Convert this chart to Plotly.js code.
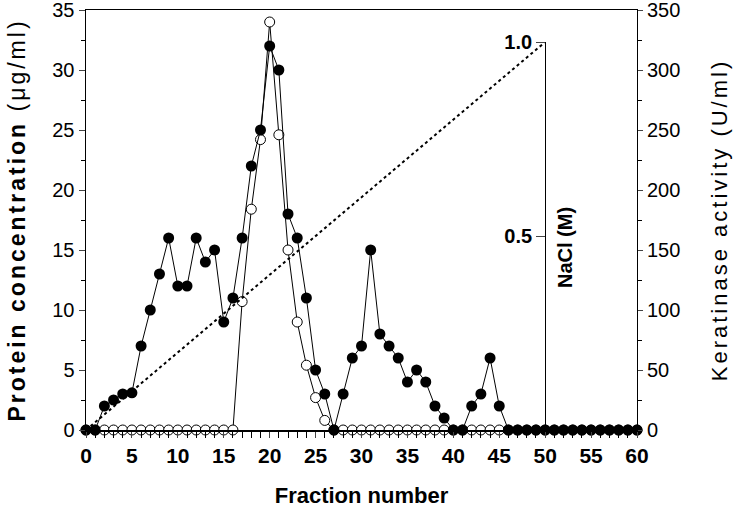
<!DOCTYPE html>
<html>
<head>
<meta charset="utf-8">
<script src="https://cdn.plot.ly/plotly-3.0.1.min.js"></script>
<style>
  html, body { margin: 0; padding: 0; background: #ffffff; }
  #chart { width: 739px; height: 517px; }
</style>
</head>
<body>
<div id="chart"></div>
<script>
const FRACTIONS = [
  0, 1, 2, 3, 4, 5, 6, 7, 8, 9, 10, 11, 12, 13, 14, 15, 16, 17, 18, 19, 20,
  21, 22, 23, 24, 25, 26, 27, 28, 29, 30, 31, 32, 33, 34, 35, 36, 37, 38, 39, 40,
  41, 42, 43, 44, 45, 46, 47, 48, 49, 50, 51, 52, 53, 54, 55, 56, 57, 58, 59, 60,
];
// filled circles, left axis (ug/ml)
const PROTEIN = [
  0, 0, 2, 2.5, 3, 3.1, 7, 10, 13, 16, 12, 12, 16, 14, 15, 9, 11, 16, 22, 25, 32,
  30, 18, 16, 11, 5, 3, 0, 3, 6, 7, 15, 8, 7, 6, 4, 5, 4, 2, 1, 0,
  0, 2, 3, 6, 2, 0, 0, 0, 0, 0, 0, 0, 0, 0, 0, 0, 0, 0, 0, 0,
];
// open circles, right axis (U/ml)
const KERATINASE = [
  0, 0, 0, 0, 0, 0, 0, 0, 0, 0, 0, 0, 0, 0, 0, 0, 0, 107, 184, 242, 340,
  246, 150, 90, 54, 27, 8, 0, 0, 0, 0, 0, 0, 0, 0, 0, 0, 0, 0, 0, 0,
  0, 0, 0, 0, 0, 0, 0, 0, 0, 0, 0, 0, 0, 0, 0, 0, 0, 0, 0, 0,
];
// NaCl gradient
const NACL_FRACTIONS = [0, 50];
const NACL_MOLAR = [0, 1.0];
const NACL_TICKS = [0.5, 1.0];
const NACL_TICK_LABELS = ["0.5", "1.0"];
const PROTEIN_TICKS = [0, 5, 10, 15, 20, 25, 30, 35];
const ACTIVITY_TICKS = [0, 50, 100, 150, 200, 250, 300, 350];

const FONT = "Arial, 'Liberation Sans', sans-serif";

const traces = [
  {
    type: "scatter",
    mode: "lines+markers",
    x: FRACTIONS,
    y: KERATINASE,
    yaxis: "y",
    cliponaxis: false,
    line: { color: "#000000", width: 1 },
    marker: { symbol: "circle", size: 10, color: "#ffffff", line: { color: "#000000", width: 1 } },
    showlegend: false,
  },
  {
    type: "scatter",
    mode: "lines+markers",
    x: FRACTIONS,
    y: PROTEIN,
    yaxis: "y2",
    cliponaxis: false,
    line: { color: "#000000", width: 1 },
    marker: { symbol: "circle", size: 11, color: "#000000" },
    showlegend: false,
  },
  {
    type: "scatter",
    mode: "lines",
    x: NACL_FRACTIONS,
    y: NACL_MOLAR,
    yaxis: "y3",
    cliponaxis: false,
    line: { color: "#000000", width: 2, dash: "dot" },
    showlegend: false,
  },
];

const layout = {
  width: 739,
  height: 517,
  margin: { l: 86, r: 102, t: 10, b: 87 },
  paper_bgcolor: "#ffffff",
  plot_bgcolor: "rgba(0,0,0,0)",
  font: { family: FONT, color: "#000000", size: 19 },
  xaxis: {
    range: [0, 60],
    dtick: 5,
    tick0: 0,
    ticks: "outside",
    ticklen: 6,
    tickwidth: 1,
    minor: { dtick: 1, ticks: "outside", ticklen: 6, tickwidth: 1, tickcolor: "#000000" },
    showline: true,
    linecolor: "#000000",
    linewidth: 1.5,
    mirror: true,
    showgrid: false,
    zeroline: false,
    tickfont: { family: FONT, size: 21, color: "#000000", weight: "bold" },
    title: {
      text: "Fraction number",
      font: { family: FONT, size: 22, color: "#000000", weight: "bold" },
      standoff: 22,
    },
    automargin: false,
  },
  yaxis: {
    range: [0, 350],
    side: "right",
    tickmode: "array",
    tickvals: ACTIVITY_TICKS,
    ticks: "outside",
    ticklen: 5,
    minor: { dtick: 25, ticks: "outside", ticklen: 4, tickcolor: "#000000" },
    ticklabeloverflow: "allow",
    showline: true,
    linecolor: "#000000",
    linewidth: 1,
    showgrid: false,
    zeroline: false,
    tickfont: { family: FONT, size: 20, color: "#000000" },
    title: {
      text: "<span style='letter-spacing:3px'>Keratinase activity (U/ml)</span>",
      font: { family: FONT, size: 22, color: "#000000" },
      standoff: 32,
    },
    automargin: false,
  },
  yaxis2: {
    range: [0, 35],
    overlaying: "y",
    side: "left",
    tickmode: "array",
    tickvals: PROTEIN_TICKS,
    ticks: "outside",
    ticklen: 6,
    minor: { dtick: 2.5, ticks: "outside", ticklen: 4, tickcolor: "#000000" },
    ticklabeloverflow: "allow",
    showline: true,
    linecolor: "#000000",
    linewidth: 1.5,
    showgrid: false,
    zeroline: false,
    tickfont: { family: FONT, size: 20, color: "#000000" },
    title: {
      text: "<span style='letter-spacing:3px'><b>Protein concentration</b> (μg/ml)</span>",
      font: { family: FONT, size: 23, color: "#000000" },
      standoff: 20,
    },
    automargin: false,
  },
  yaxis3: {
    domain: [0, 388 / 420],
    range: [0, 1],
    anchor: "free",
    position: 50 / 60,
    side: "left",
    tickmode: "array",
    tickvals: NACL_TICKS,
    ticktext: NACL_TICK_LABELS,
    ticks: "outside",
    ticklen: 9,
    showline: true,
    linecolor: "#000000",
    linewidth: 1,
    showgrid: false,
    zeroline: false,
    tickfont: { family: FONT, size: 20, color: "#000000", weight: "bold" },
    automargin: false,
  },
  annotations: [
    {
      text: "<b>NaCl (M)</b>",
      xref: "paper",
      yref: "paper",
      x: (578 - 86) / 551,
      y: (430 - 248) / 420,
      textangle: -90,
      showarrow: false,
      font: { family: FONT, size: 20, color: "#000000" },
    },
  ],
};

Plotly.newPlot("chart", traces, layout, { displayModeBar: false, staticPlot: true });
</script>
</body>
</html>
